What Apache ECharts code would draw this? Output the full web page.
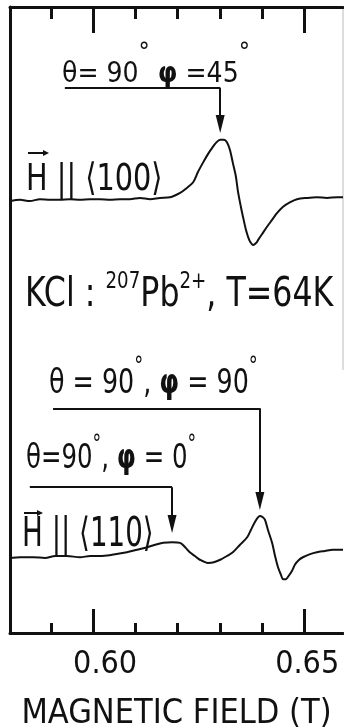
<!DOCTYPE html>
<html>
<head>
<meta charset="utf-8">
<script src="https://cdn.jsdelivr.net/npm/echarts@6/dist/echarts.min.js"></script>
<style>
  html, body { margin: 0; padding: 0; background: #fff; }
  #chart { width: 344px; height: 728px; }
</style>
</head>
<body>
<div id="chart"></div>
<script>
// EPR first-derivative spectra of KCl:207Pb2+ at T = 64 K, two field orientations.

// H || <100>: magnetic field (T) and signal (arbitrary units, trace displaced upward)
const fieldH100 = [0.5803, 0.5827, 0.5850, 0.5874, 0.5898, 0.5921, 0.5945, 0.5969, 0.5993, 0.6016,
  0.6040, 0.6064, 0.6087, 0.6111, 0.6135, 0.6158, 0.6182, 0.6206, 0.6222, 0.6237,
  0.6248, 0.6260, 0.6272, 0.6282, 0.6291, 0.6301, 0.6310, 0.6317, 0.6324, 0.6331,
  0.6338, 0.6343, 0.6350, 0.6355, 0.6362, 0.6367, 0.6372, 0.6379, 0.6386, 0.6391,
  0.6400, 0.6412, 0.6424, 0.6436, 0.6450, 0.6466, 0.6483, 0.6507, 0.6530, 0.6554,
  0.6578, 0.6592];
const signalH100 = [69.0, 69.2, 69.0, 69.3, 69.2, 69.2, 69.3, 69.2, 69.3, 69.3,
  69.2, 69.3, 69.3, 69.5, 69.3, 69.5, 69.6, 70.3, 71.1, 72.0,
  73.6, 75.1, 76.5, 77.5, 78.3, 78.8, 78.8, 78.4, 77.2, 75.1,
  73.0, 70.6, 68.1, 66.5, 64.4, 63.3, 62.5, 62.0, 62.3, 62.8,
  63.7, 64.9, 66.0, 67.1, 68.1, 68.8, 69.3, 69.5, 69.6, 69.5,
  69.6, 69.6];

// H || <110>
const fieldH110 = [0.5803, 0.5827, 0.5858, 0.5886, 0.5910, 0.5938, 0.5969, 0.5993, 0.6016, 0.6045,
  0.6080, 0.6104, 0.6128, 0.6147, 0.6166, 0.6187, 0.6206, 0.6218, 0.6229, 0.6241,
  0.6253, 0.6272, 0.6286, 0.6301, 0.6317, 0.6331, 0.6348, 0.6365, 0.6374, 0.6383,
  0.6391, 0.6395, 0.6402, 0.6407, 0.6414, 0.6424, 0.6431, 0.6438, 0.6445, 0.6450,
  0.6457, 0.6461, 0.6471, 0.6478, 0.6488, 0.6497, 0.6514, 0.6530, 0.6549, 0.6568,
  0.6592];
const signalH110 = [12.0, 12.1, 12.1, 12.0, 12.3, 12.3, 12.1, 12.3, 12.3, 12.5,
  12.9, 13.3, 13.7, 14.1, 14.4, 14.5, 14.4, 13.7, 12.9, 12.3,
  11.7, 11.2, 11.3, 11.7, 12.3, 12.9, 14.1, 15.3, 16.5, 17.7,
  18.5, 18.7, 18.5, 18.1, 16.5, 14.4, 12.3, 10.5, 9.3, 8.6,
  8.6, 8.9, 9.9, 10.9, 11.7, 12.1, 12.6, 12.9, 13.1, 13.3,
  13.3];

// resonance fields marked by arrows (T)
const linePhi45 = 0.6301;
const linePhi90 = 0.6395;
const linePhi0 = 0.6187;

// axis ticks and labels
const majorTicks = [0.60, 0.65];
const minorTicks = [0.59, 0.61, 0.62, 0.63, 0.64];
const tickLabels = ['0.60', '0.65'];

const FIELD_MIN = 0.5803;
const FIELD_MAX = 0.6592;

const FONT = "'DejaVu Sans Condensed', 'DejaVu Sans', sans-serif";
const INK = '#111';

const zip = (xs, ys) => xs.map((x, i) => [x, ys[i]]);

// leader lines: [start field, leader level, arrow end level] in plot units
function leader(startField, field, level, tipLevel) {
  return [
    [{ coord: [startField, level], symbol: 'none' }, { coord: [field, level], symbol: 'none' }],
    [{ coord: [field, level], symbol: 'none' },
     { coord: [field, tipLevel], symbol: 'triangle', symbolSize: [9, 18] }]
  ];
}
const leaderStyle = {
  silent: true,
  animation: false,
  label: { show: false },
  emphasis: { disabled: true },
  lineStyle: { color: INK, width: 2, type: 'solid' },
  itemStyle: { color: INK }
};

function xAxisBase(position) {
  return {
    type: 'value', min: FIELD_MIN, max: FIELD_MAX, position: position,
    splitLine: { show: false },
    axisLabel: { show: false },
    axisLine: { show: false, onZero: false }
  };
}

const chart = echarts.init(document.getElementById('chart'), null, { renderer: 'canvas' });

// tick labels sit slightly to the right of their ticks
const labelFormatter = v => {
  const i = majorTicks.findIndex(t => Math.abs(t - v) < 1e-6);
  return i < 0 ? '' : '{t' + i + '|' + tickLabels[i] + '}';
};

// annotation text; narrow lettering is obtained with a horizontal scale
const annText = (x, y, text, size, supSize, lineH, sx) => ({
  type: 'text', x: x, y: y, scaleX: sx, silent: true,
  style: {
    text: text, x: 0, y: 0, align: 'left', verticalAlign: 'top',
    fill: INK,
    fontFamily: FONT,
    rich: {
      m: { fontSize: size, fontFamily: FONT, fill: INK, lineHeight: lineH, verticalAlign: 'bottom' },
      p: { fontSize: size, fontFamily: FONT, fill: INK, fontWeight: 'bold', lineHeight: lineH, verticalAlign: 'bottom' },
      d: { fontSize: supSize, fontFamily: FONT, fill: INK, lineHeight: supSize, verticalAlign: 'top' },
      s: { fontSize: supSize, fontFamily: FONT, fill: INK, lineHeight: supSize, verticalAlign: 'top' }
    }
  }
});

// small vector arrow drawn above the letter H
const vecArrow = (x, y, len) => ({
  type: 'group', x: x, y: y, silent: true,
  children: [
    { type: 'line', shape: { x1: 0, y1: 3, x2: len - 4, y2: 3 }, style: { stroke: INK, lineWidth: 2 } },
    { type: 'polygon', shape: { points: [[len - 6, 0], [len, 3], [len - 6, 6]] }, style: { fill: INK } }
  ]
});

chart.setOption({
  animation: false,
  backgroundColor: '#fff',
  grid: { left: 10, top: 7, width: 333, height: 626, outerBoundsMode: 'none', containLabel: false },
  xAxis: [
    Object.assign(xAxisBase('bottom'), {
      axisLine: { show: true, onZero: false, lineStyle: { color: INK, width: 3 } },
      axisTick: { show: true, inside: true, length: 24, customValues: majorTicks, lineStyle: { color: INK, width: 3 } },
      axisLabel: {
        show: true, customValues: majorTicks, formatter: labelFormatter,
        color: INK, fontFamily: FONT, fontSize: 32, margin: 16,
        rich: {
          t0: { fontFamily: FONT, fontSize: 32, color: INK, padding: [0, 0, 0, 24] },
          t1: { fontFamily: FONT, fontSize: 32, color: INK, padding: [0, 0, 0, 6] }
        }
      },
      name: 'MAGNETIC FIELD (T)', nameLocation: 'middle', nameGap: 64,
      nameTextStyle: { color: INK, fontFamily: FONT, fontSize: 34 }
    }),
    Object.assign(xAxisBase('bottom'), {
      axisTick: { show: true, inside: true, length: 10, customValues: minorTicks, lineStyle: { color: INK, width: 3 } }
    }),
    Object.assign(xAxisBase('top'), {
      axisLine: { show: true, onZero: false, lineStyle: { color: INK, width: 3 } },
      axisTick: { show: true, inside: true, length: 26, customValues: majorTicks, lineStyle: { color: INK, width: 3 } }
    }),
    Object.assign(xAxisBase('top'), {
      axisTick: { show: true, inside: true, length: 12, customValues: minorTicks, lineStyle: { color: INK, width: 3 } }
    })
  ],
  yAxis: [{
    type: 'value', min: 0, max: 100, position: 'left',
    axisLine: { show: true, onZero: false, lineStyle: { color: INK, width: 3 } },
    axisTick: { show: false }, axisLabel: { show: false }, splitLine: { show: false }
  }],
  series: [
    {
      name: 'H || <100>', type: 'line', xAxisIndex: 0, yAxisIndex: 0,
      data: zip(fieldH100, signalH100),
      showSymbol: false, smooth: 0.3, silent: true,
      lineStyle: { color: INK, width: 2 },
      markLine: Object.assign({ data: leader(0.5933, linePhi45, 87.1, 81.3) }, leaderStyle)
    },
    {
      name: 'H || <110>', type: 'line', xAxisIndex: 0, yAxisIndex: 0,
      data: zip(fieldH110, signalH110),
      showSymbol: false, smooth: 0.3, silent: true,
      lineStyle: { color: INK, width: 2 },
      markLine: Object.assign({
        data: leader(0.5905, linePhi90, 35.9, 21.1).concat(leader(0.5850, linePhi0, 23.3, 17.4))
      }, leaderStyle)
    }
  ],
  graphic: [
    // faint right frame edge
    { type: 'line', silent: true, shape: { x1: 343, y1: 7, x2: 343, y2: 370 }, style: { stroke: '#bbb', lineWidth: 1 } },
    annText(62, 41, '{m|θ= 90}{d|°}{m| }{p|φ}{m| =45}{d|°}', 28, 25, 48, 1),
    annText(26, 155, '{m|H || ⟨100⟩}', 38, 20, 44, 0.84),
    vecArrow(28, 150, 21),
    annText(25, 271, '{m|KCl : }{s|207}{m|Pb}{s|2+}{m|, T=64K}', 40, 23, 45, 0.88),
    annText(49, 356, '{m|θ = 90}{d|°}{m|, }{p|φ}{m| = 90}{d|°}', 34, 24, 45, 0.83),
    annText(26, 434, '{m|θ=90}{d|°}{m|, }{p|φ}{m| = 0}{d|°}', 34, 24, 42, 0.8),
    annText(22, 510, '{m|H || ⟨110⟩}', 40, 20, 46, 0.77),
    vecArrow(24, 510, 19)
  ]
});
</script>
</body>
</html>
